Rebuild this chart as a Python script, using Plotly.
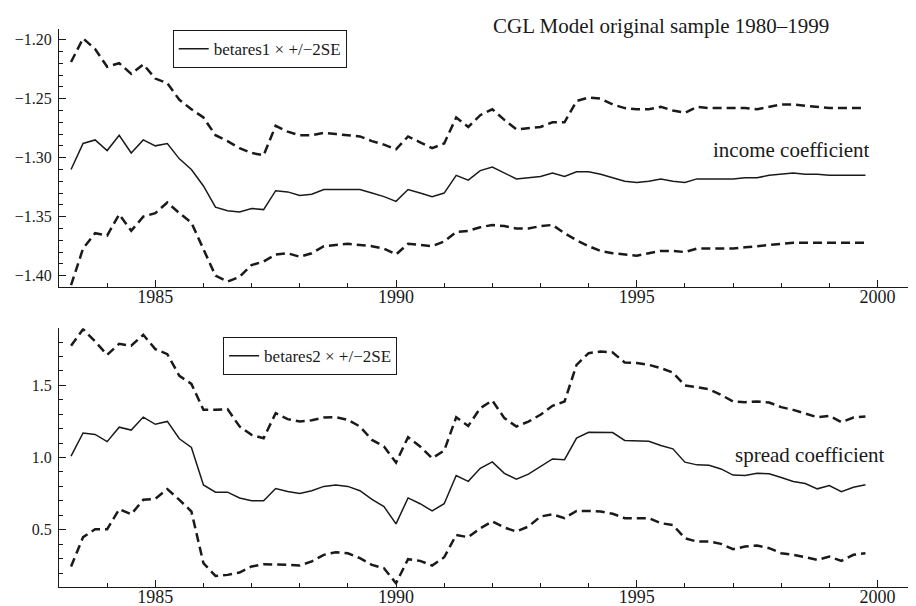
import plotly.graph_objects as go

# quarterly recursive estimates, 1983Q2 .. 1999Q4
quarters = [1983.25 + 0.25 * i for i in range(67)]

inc_mid = [-1.310, -1.288, -1.285, -1.294, -1.281, -1.296, -1.285, -1.290, -1.288, -1.301,
           -1.310, -1.324, -1.342, -1.345, -1.346, -1.343, -1.344, -1.328, -1.329, -1.332,
           -1.331, -1.327, -1.327, -1.327, -1.327, -1.330, -1.333, -1.337, -1.327, -1.330,
           -1.333, -1.330, -1.315, -1.319, -1.311, -1.308, -1.313, -1.318, -1.317, -1.316,
           -1.313, -1.316, -1.312, -1.312, -1.314, -1.317, -1.320, -1.321, -1.320, -1.318,
           -1.320, -1.321, -1.318, -1.318, -1.318, -1.318, -1.317, -1.317, -1.315, -1.314,
           -1.313, -1.314, -1.314, -1.315, -1.315, -1.315, -1.315]
inc_hi = [-1.219, -1.199, -1.208, -1.223, -1.220, -1.229, -1.221, -1.233, -1.237, -1.251,
          -1.259, -1.266, -1.281, -1.286, -1.292, -1.296, -1.298, -1.273, -1.278, -1.281,
          -1.281, -1.279, -1.280, -1.281, -1.282, -1.286, -1.289, -1.293, -1.282, -1.287,
          -1.292, -1.288, -1.266, -1.274, -1.264, -1.259, -1.268, -1.276, -1.275, -1.274,
          -1.270, -1.270, -1.252, -1.249, -1.250, -1.255, -1.258, -1.259, -1.259, -1.257,
          -1.260, -1.262, -1.257, -1.258, -1.258, -1.258, -1.258, -1.259, -1.257, -1.255,
          -1.255, -1.256, -1.257, -1.258, -1.258, -1.258, -1.258]
inc_lo = [-1.408, -1.377, -1.364, -1.366, -1.348, -1.362, -1.350, -1.347, -1.338, -1.347,
          -1.355, -1.377, -1.400, -1.405, -1.401, -1.391, -1.388, -1.382, -1.381, -1.384,
          -1.381, -1.375, -1.374, -1.373, -1.374, -1.375, -1.377, -1.382, -1.373, -1.374,
          -1.375, -1.371, -1.363, -1.362, -1.359, -1.357, -1.358, -1.360, -1.360, -1.358,
          -1.357, -1.364, -1.370, -1.375, -1.379, -1.381, -1.382, -1.383, -1.381, -1.379,
          -1.379, -1.380, -1.377, -1.377, -1.377, -1.377, -1.376, -1.375, -1.374, -1.373,
          -1.372, -1.372, -1.372, -1.372, -1.372, -1.372, -1.372]

spr_mid = [1.010, 1.170, 1.160, 1.110, 1.210, 1.190, 1.280, 1.230, 1.250, 1.130,
           1.070, 0.810, 0.760, 0.760, 0.720, 0.700, 0.700, 0.785, 0.765, 0.750,
           0.770, 0.800, 0.810, 0.800, 0.770, 0.710, 0.660, 0.540, 0.720, 0.680,
           0.630, 0.680, 0.875, 0.835, 0.925, 0.970, 0.890, 0.850, 0.885, 0.940,
           0.990, 0.985, 1.135, 1.175, 1.175, 1.173, 1.118, 1.118, 1.113, 1.083,
           1.060, 0.968, 0.949, 0.947, 0.921, 0.878, 0.875, 0.891, 0.887, 0.861,
           0.834, 0.820, 0.783, 0.806, 0.764, 0.794, 0.811]
spr_hi = [1.774, 1.889, 1.804, 1.711, 1.788, 1.774, 1.850, 1.751, 1.716, 1.566,
          1.510, 1.330, 1.330, 1.335, 1.215, 1.157, 1.134, 1.307, 1.266, 1.249,
          1.258, 1.277, 1.279, 1.261, 1.215, 1.122, 1.076, 0.965, 1.141, 1.076,
          0.995, 1.048, 1.279, 1.219, 1.342, 1.395, 1.273, 1.215, 1.249, 1.296,
          1.358, 1.388, 1.642, 1.723, 1.734, 1.728, 1.658, 1.654, 1.642, 1.619,
          1.589, 1.499, 1.487, 1.473, 1.434, 1.388, 1.383, 1.388, 1.381, 1.349,
          1.330, 1.307, 1.279, 1.289, 1.245, 1.277, 1.284]
spr_lo = [0.245, 0.448, 0.503, 0.503, 0.642, 0.607, 0.707, 0.714, 0.781, 0.707,
          0.626, 0.268, 0.180, 0.187, 0.203, 0.245, 0.261, 0.256, 0.256, 0.252,
          0.280, 0.326, 0.344, 0.337, 0.303, 0.256, 0.233, 0.129, 0.296, 0.284,
          0.252, 0.309, 0.464, 0.448, 0.510, 0.557, 0.515, 0.487, 0.522, 0.591,
          0.607, 0.580, 0.630, 0.630, 0.626, 0.610, 0.580, 0.580, 0.580, 0.545,
          0.533, 0.441, 0.418, 0.418, 0.402, 0.365, 0.383, 0.390, 0.372, 0.337,
          0.326, 0.309, 0.291, 0.314, 0.284, 0.326, 0.337]

INK = "#1a1a1a"
FONT = "Liberation Serif"

solid = dict(color=INK, width=1.5)
dashed = dict(color=INK, width=2.5, dash="9px,5px")

fig = go.Figure()

# top panel: income coefficient
fig.add_trace(go.Scatter(x=quarters, y=inc_mid, mode="lines", line=solid,
                         name="betares1 \u00d7 +/\u22122SE", legend="legend",
                         xaxis="x", yaxis="y"))
fig.add_trace(go.Scatter(x=quarters, y=inc_hi, mode="lines", line=dashed,
                         showlegend=False, xaxis="x", yaxis="y"))
fig.add_trace(go.Scatter(x=quarters, y=inc_lo, mode="lines", line=dashed,
                         showlegend=False, xaxis="x", yaxis="y"))

# bottom panel: spread coefficient
fig.add_trace(go.Scatter(x=quarters, y=spr_mid, mode="lines", line=solid,
                         name="betares2 \u00d7 +/\u22122SE", legend="legend2",
                         xaxis="x2", yaxis="y2"))
fig.add_trace(go.Scatter(x=quarters, y=spr_hi, mode="lines", line=dashed,
                         showlegend=False, xaxis="x2", yaxis="y2"))
fig.add_trace(go.Scatter(x=quarters, y=spr_lo, mode="lines", line=dashed,
                         showlegend=False, xaxis="x2", yaxis="y2"))

xcommon = dict(range=[1983, 2000.8], tick0=1985, dtick=5, ticks="inside", ticklen=7,
               tickcolor=INK, showline=True, linecolor=INK, linewidth=1,
               showgrid=False, zeroline=False, automargin=False,
               ticklabelstandoff=-7, tickfont=dict(size=18),
               minor=dict(dtick=1, tick0=1985, ticks="inside", ticklen=4, tickcolor=INK,
                          showgrid=False))
ycommon = dict(ticks="inside", ticklen=7, tickcolor=INK, showline=True, linecolor=INK,
               linewidth=1, showgrid=False, zeroline=False, automargin=False,
               ticklabelstandoff=3, tickfont=dict(size=16))

# the page body adds an 8px margin, so the figure is 8px smaller and shifted
fig.update_layout(
    width=908, height=598,
    margin=dict(l=51, r=0, t=21, b=19),
    paper_bgcolor="white", plot_bgcolor="white",
    font=dict(family=FONT, size=17, color=INK),
    xaxis=dict(domain=[0, 1], anchor="y", **xcommon),
    yaxis=dict(domain=[0.5376, 1], anchor="x", range=[-1.4096, -1.191],
               tick0=-1.2, dtick=0.05, tickformat=".2f",
               minor=dict(dtick=0.01, ticks="inside", ticklen=4, tickcolor=INK,
                          showgrid=False),
               **ycommon),
    xaxis2=dict(domain=[0, 1], anchor="y2", **xcommon),
    yaxis2=dict(domain=[0, 0.4636], anchor="x2", range=[0.103, 1.895],
                tick0=0.5, dtick=0.5, tickformat=".1f",
                minor=dict(dtick=0.1, ticks="inside", ticklen=4, tickcolor=INK,
                           showgrid=False),
                **ycommon),
    legend=dict(x=0.1327, y=0.998, xanchor="left", yanchor="top",
                bordercolor=INK, borderwidth=1, bgcolor="white",
                font=dict(family=FONT, size=17, color=INK),
                itemwidth=30, tracegroupgap=0),
    legend2=dict(x=0.1915, y=0.4475, xanchor="left", yanchor="top",
                 bordercolor=INK, borderwidth=1, bgcolor="white",
                 font=dict(family=FONT, size=17, color=INK),
                 itemwidth=30, tracegroupgap=0),
    showlegend=True,
)

fig.add_annotation(text="CGL Model original sample 1980\u20131999", xref="paper", yref="paper",
                   x=0.703, y=1.0054, xanchor="center", yanchor="middle", showarrow=False,
                   font=dict(family=FONT, size=21, color=INK))
fig.add_annotation(text="income coefficient", xref="paper", yref="paper",
                   x=0.8553, y=0.7832, xanchor="center", yanchor="middle", showarrow=False,
                   font=dict(family=FONT, size=21, color=INK))
fig.add_annotation(text="spread coefficient", xref="paper", yref="paper",
                   x=0.8763, y=0.2366, xanchor="center", yanchor="middle", showarrow=False,
                   font=dict(family=FONT, size=21, color=INK))

fig.write_html("out.html")
